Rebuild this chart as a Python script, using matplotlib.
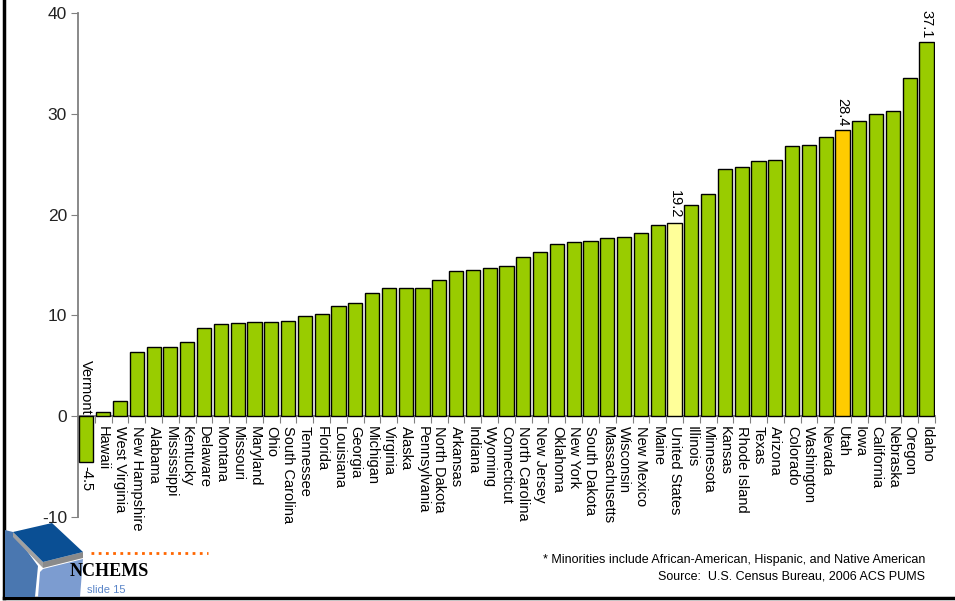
import matplotlib
matplotlib.use("Agg")
import matplotlib.pyplot as plt
from matplotlib.patches import Polygon
from matplotlib.lines import Line2D

plt.rcParams['font.family'] = ['Liberation Sans', 'DejaVu Sans']

# data
states = ["Vermont", "Hawaii", "West Virginia", "New Hampshire", "Alabama", "Mississippi",
          "Kentucky", "Delaware", "Montana", "Missouri", "Maryland", "Ohio", "South Carolina",
          "Tennessee", "Florida", "Louisiana", "Georgia", "Michigan", "Virginia", "Alaska",
          "Pennsylvania", "North Dakota", "Arkansas", "Indiana", "Wyoming", "Connecticut",
          "North Carolina", "New Jersey", "Oklahoma", "New York", "South Dakota",
          "Massachusetts", "Wisconsin", "New Mexico", "Maine", "United States", "Illinois",
          "Minnesota", "Kansas", "Rhode Island", "Texas", "Arizona", "Colorado", "Washington",
          "Nevada", "Utah", "Iowa", "California", "Nebraska", "Oregon", "Idaho"]
values = [-4.5, 0.4, 1.5, 6.4, 6.9, 6.9, 7.4, 8.8, 9.2, 9.3, 9.4, 9.4, 9.5,
          9.9, 10.1, 10.9, 11.2, 12.2, 12.7, 12.7, 12.7, 13.5, 14.4, 14.5, 14.7, 14.9,
          15.8, 16.3, 17.1, 17.3, 17.4, 17.7, 17.8, 18.2, 19.0, 19.2, 21.0,
          22.1, 24.5, 24.7, 25.3, 25.4, 26.8, 26.9, 27.7, 28.4, 29.3, 30.0, 30.3, 33.6, 37.1]
labelled = ["Vermont", "United States", "Utah", "Idaho"]
highlight = {"United States": "#FFFF99", "Utah": "#FFCC00"}
yticks = [-10, 0, 10, 20, 30, 40]

fig = plt.figure(figsize=(9.55, 6.01), dpi=100)
ax = fig.add_axes([0.0817, 0.1398, 0.8973, 0.8382])

x = list(range(len(states)))
colors = [highlight.get(s, "#99CC00") for s in states]
ax.bar(x, values, width=0.84, color=colors, edgecolor="black", linewidth=1, zorder=3)

ax.set_xlim(-0.5, len(states) - 0.5)
ax.set_ylim(-10, 40)
ax.set_yticks(yticks)
ax.set_yticklabels([str(t) for t in yticks], fontsize=12.5, color="#222222")
ax.set_xticks([i + 0.5 for i in x])
ax.set_xticklabels([])

for side in ["top", "right"]:
    ax.spines[side].set_visible(False)
ax.spines["left"].set_color("#808080")
ax.spines["left"].set_linewidth(1.3)
ax.spines["bottom"].set_position(("data", 0))
ax.spines["bottom"].set_color("#808080")
ax.spines["bottom"].set_linewidth(1.3)
ax.tick_params(axis="y", direction="out", length=5, color="#808080", pad=3)
ax.tick_params(axis="x", direction="out", length=5, color="#808080")

# category labels along the zero line
for i, (s, v) in enumerate(zip(states, values)):
    if v >= 0:
        ax.annotate(s, (i, 0), xytext=(0, -7), textcoords="offset points",
                    rotation=-90, ha="center", va="top", fontsize=10.5)
    else:
        ax.annotate(s, (i, 0), xytext=(0, 1), textcoords="offset points",
                    rotation=-90, ha="center", va="bottom", fontsize=10.5)

# value labels
for i, (s, v) in enumerate(zip(states, values)):
    if s in labelled:
        if v >= 0:
            ax.annotate(f"{v:.1f}", (i, v), xytext=(0, 3), textcoords="offset points",
                        rotation=-90, ha="center", va="bottom", fontsize=10.5)
        else:
            ax.annotate(f"{v:.1f}", (i, v), xytext=(0, -3), textcoords="offset points",
                        rotation=-90, ha="center", va="top", fontsize=10.5)

# footnote
fig.text(0.969, 0.068, "* Minorities include African-American, Hispanic, and Native American",
         ha="right", va="center", fontsize=9)
fig.text(0.969, 0.041, "Source:  U.S. Census Bureau, 2006 ACS PUMS",
         ha="right", va="center", fontsize=9)

# slide frame
W, H = 955.0, 601.0
def fx(px):
    return px / W
def fy(py):
    return 1 - py / H

fig.add_artist(Line2D([fx(4), fx(4)], [fy(0), fy(598)], color="black", linewidth=2.5))
fig.add_artist(Line2D([fx(4), fx(955)], [fy(598), fy(598)], color="black", linewidth=2.5))

# logo shapes
def poly(pts, color, z=5):
    fig.add_artist(Polygon([(fx(a), fy(b)) for a, b in pts], closed=True,
                           facecolor=color, edgecolor="none", zorder=z))

poly([(5, 530), (13, 532), (38, 566), (35, 597), (5, 597)], "#4A77B0")
poly([(43, 569), (83, 559), (80, 597), (38, 597), (40, 572)], "#7C9CD0")
poly([(13, 532), (43, 562), (43, 568), (13, 537)], "#A0A0A0")
poly([(43, 562), (83, 552), (83, 558), (43, 568)], "#8A8A8A")
poly([(13, 532), (52, 523), (83, 552), (43, 562)], "#0A4F94", z=6)

fig.add_artist(Line2D([fx(91), fx(208)], [fy(553), fy(553)], color="#FF6600",
                      linewidth=2, linestyle=(0, (1, 1.6))))
fig.text(fx(70), fy(571), "NCHEMS", fontsize=13, fontweight="bold",
         family="Liberation Serif", ha="left", va="center", color="black", zorder=10)
fig.text(fx(87), fy(590), "slide 15", fontsize=8, color="#5A85C8",
         ha="left", va="center", zorder=10)

fig.savefig("out.png", dpi=100)
